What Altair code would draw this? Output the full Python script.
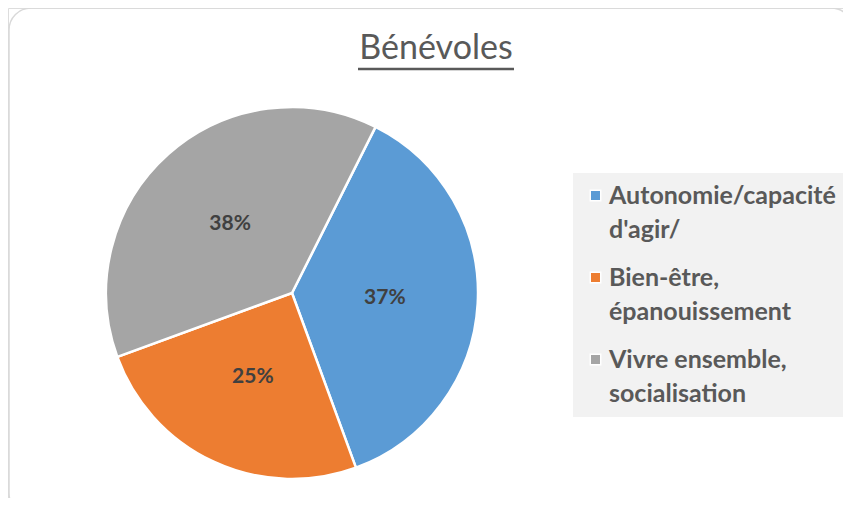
import math
import json
import altair as alt
import pandas as pd

# ---- data ----
categories = ["Autonomie/capacité d'agir/", "Bien-être, épanouissement", "Vivre ensemble, socialisation"]
legend_lines = [["Autonomie/capacité", "d'agir/"], ["Bien-être,", "épanouissement"], ["Vivre ensemble,", "socialisation"]]
values = [37, 25, 38]
pct_labels = ["37%", "25%", "38%"]
colors = ["#5B9BD5", "#ED7D31", "#A5A5A5"]
title_text = "Bénévoles"

df = pd.DataFrame({"cat": categories, "value": values, "idx": list(range(len(values))), "label": pct_labels})

W, H = 835, 490
CX, CY = 284, 285
R = 186
start = math.radians(26.7)
theta_scale = alt.Scale(range=[start, start + 2 * math.pi])

# legend label expression (multi-line labels)
expr = "datum.label"
for cat, lines in reversed(list(zip(categories, legend_lines))):
    expr = f"datum.label == {json.dumps(cat)} ? {json.dumps(lines)} : ({expr})"

color_enc = alt.Color(
    "cat:N",
    scale=alt.Scale(domain=categories, range=colors),
    sort=categories,
    legend=alt.Legend(
        title=None,
        orient="none",
        legendX=565,
        legendY=165,
        fillColor="#F2F2F2",
        padding=10,
        symbolType="square",
        symbolSize=110,
        symbolStrokeColor="white",
        symbolStrokeWidth=1.5,
        symbolOffset=0,
        labelOffset=1,
        labelFont="Lato",
        labelFontSize=25,
        labelFontWeight="bold",
        labelColor="#595959",
        labelLimit=400,
        labelExpr=expr,
        rowPadding=22,
    ),
)

base = alt.Chart(df)

pie = base.mark_arc(outerRadius=R, stroke="white", strokeWidth=2.5).encode(
    theta=alt.Theta("value:Q", stack=True, scale=theta_scale),
    color=color_enc,
    order=alt.Order("idx:Q"),
    x=alt.value(CX),
    y=alt.value(CY),
)

labels = base.mark_text(font="Lato", fontSize=21, fontWeight="bold", color="#404040").encode(
    theta=alt.Theta("value:Q", stack=True, scale=theta_scale),
    order=alt.Order("idx:Q"),
    radius=alt.value(93),
    text="label:N",
    x=alt.value(CX),
    y=alt.value(CY),
)

tdf = pd.DataFrame({"t": [title_text]})
title = alt.Chart(tdf).mark_text(font="Lato", fontSize=34, color="#595959", baseline="alphabetic", align="center").encode(
    text="t:N", x=alt.value(428), y=alt.value(51)
)
underline = alt.Chart(tdf).mark_rule(color="#595959", strokeWidth=2.5).encode(
    x=alt.value(350), x2=alt.value(506), y=alt.value(61)
)

border = alt.Chart(tdf).mark_rect(
    fillOpacity=0, stroke="#D9D9D9", strokeWidth=1.5, cornerRadius=22, clip=True
).encode(x=alt.value(1), x2=alt.value(845), y=alt.value(0), y2=alt.value(507))

chart = (
    alt.layer(border, pie, labels, title, underline)
    .properties(width=W, height=H, padding=0, background="white",
                autosize=alt.AutoSizeParams(type="fit", contains="padding"))
    .configure_view(stroke=None)
    .configure(style={"guide-label": {"lineHeight": 34}})
)

chart.save("out.html", embed_options={"renderer": "svg", "actions": False})
